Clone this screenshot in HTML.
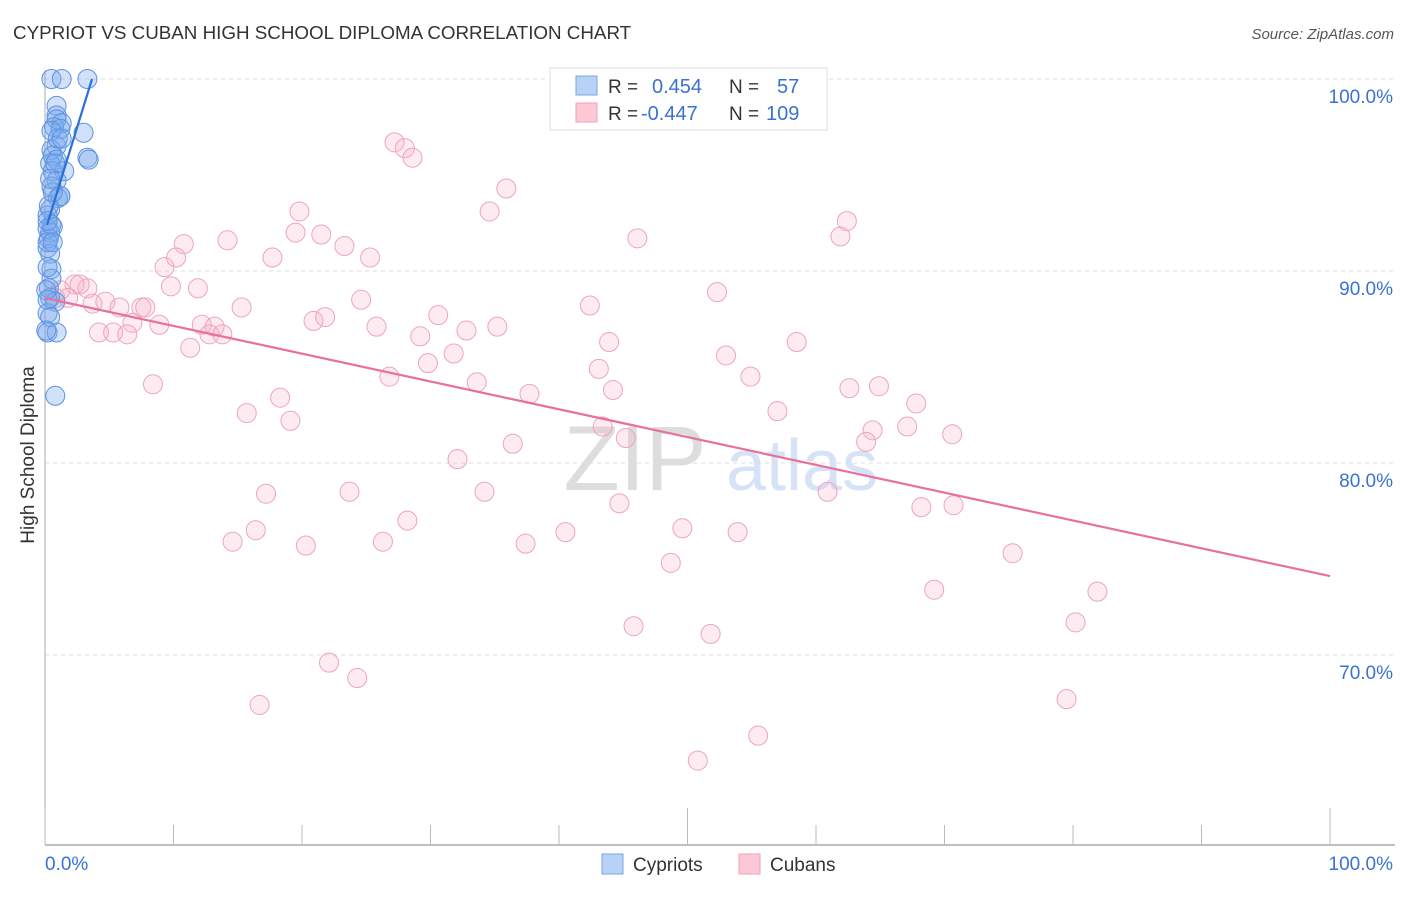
<!DOCTYPE html>
<html><head><meta charset="utf-8"><style>
body{margin:0;background:#fff;font-family:"Liberation Sans",sans-serif;}
svg text{font-family:"Liberation Sans",sans-serif;}
</style></head><body>
<svg id="chart" width="1406" height="892" xmlns="http://www.w3.org/2000/svg">
<text x="13" y="39" font-size="18.8" fill="#333">CYPRIOT VS CUBAN HIGH SCHOOL DIPLOMA CORRELATION CHART</text>
<text x="1394" y="39" font-size="15" fill="#555" text-anchor="end" font-style="italic">Source: ZipAtlas.com</text>
<text transform="translate(34,455) rotate(-90)" font-size="19" fill="#333" text-anchor="middle">High School Diploma</text>
<g id="watermark">
<text x="635" y="490" font-size="92" fill="#ddd" text-anchor="middle" font-family="Liberation Serif">ZIP</text>
<text x="802" y="490" font-size="72" fill="#d6e3f6" text-anchor="middle">atlas</text>
</g>
<g id="grid"></g><g id="axes"></g><g id="pink"></g><g id="blue"></g><g id="lines"></g>
<g>
<rect x="550" y="68" width="277" height="62" fill="#fff" stroke="#ddd"/>
<rect x="576" y="76" width="21" height="19" fill="#b8d2f5" stroke="#7aa6e6"/>
<rect x="576" y="103" width="21" height="19" fill="#fcc8d6" stroke="#eea0b8"/>
<text x="608" y="93" font-size="19" fill="#333">R =</text>
<text x="652" y="93" font-size="20" fill="#3a72d0">0.454</text>
<text x="729" y="93" font-size="19" fill="#333">N =</text>
<text x="777" y="93" font-size="20" fill="#3a72d0">57</text>
<text x="608" y="120" font-size="19" fill="#333">R =</text>
<text x="641" y="120" font-size="20" fill="#3a72d0">-0.447</text>
<text x="729" y="120" font-size="19" fill="#333">N =</text>
<text x="766" y="120" font-size="20" fill="#3a72d0">109</text>
</g>
<g>
<rect x="602" y="854" width="21" height="20" fill="#b8d2f5" stroke="#7aa6e6"/>
<text x="633" y="871" font-size="19" fill="#333">Cypriots</text>
<rect x="739" y="854" width="21" height="20" fill="#fcc8d6" stroke="#eea0b8"/>
<text x="770" y="871" font-size="19" fill="#333">Cubans</text>
</g>
</svg>
<script>
const yTicks=[100,90,80,70];
const yTickLabels=["100.0%","90.0%","80.0%","70.0%"];
const xTicks=[0,10,20,30,40,50,60,70,80,90,100];
const xTickLabels=["0.0%","100.0%"];
const cypX=[0.5,1.3,3.3,0.9,0.9,0.9,1.3,0.7,1.2,0.5,3.0,0.9,0.5,0.6,3.3,3.4,0.9,0.4,1.5,0.6,0.9,0.5,1.2,1.0,0.4,0.2,0.5,0.2,0.4,0.3,0.6,0.2,0.4,0.5,0.5,0.3,0.4,0.8,0.2,0.2,0.9,0.8,0.2,0.3,1.2,0.6,1.0,0.8,0.4,0.2,0.2,0.6,0.1,0.2,0.4,0.1,1.3];
const cypY=[100,100,100,98.6,98.1,97.9,97.7,97.5,97.4,97.3,97.2,96.5,96.3,96.0,95.9,95.8,95.8,95.6,95.2,95.2,94.7,94.4,93.9,93.8,93.2,92.9,92.4,92.2,92.0,91.7,92.3,91.2,90.9,90.1,89.6,89.1,88.6,88.4,87.8,86.8,86.8,83.5,90.2,93.4,93.9,94.1,96.9,95.6,94.8,92.6,91.5,91.5,89.0,88.5,87.6,86.9,96.9];
const cubX=[27.2,28.0,28.6,35.9,34.6,19.8,19.5,21.5,23.3,25.3,17.7,14.2,10.8,10.2,9.3,9.8,11.9,2.3,2.7,3.3,1.2,0.8,1.8,3.7,4.7,5.8,7.5,7.8,15.3,24.6,30.6,35.2,32.8,29.2,25.8,20.9,21.8,12.2,13.2,6.8,8.9,4.2,5.3,6.4,12.8,13.8,11.3,31.8,29.8,26.8,33.6,37.7,42.4,43.9,43.1,44.2,46.1,52.3,53.0,58.5,54.9,61.9,62.4,62.6,64.9,67.8,64.4,63.9,67.1,70.6,57.0,43.4,45.2,36.4,32.1,8.4,15.7,18.3,19.1,17.2,23.7,28.2,34.2,44.7,49.6,53.9,60.9,68.2,70.7,40.5,37.4,26.3,20.3,16.4,14.6,75.3,48.7,69.2,81.9,45.8,51.8,80.2,22.1,24.3,16.7,79.5,50.8,55.5];
const cubY=[96.7,96.4,95.9,94.3,93.1,93.1,92.0,91.9,91.3,90.7,90.7,91.6,91.4,90.7,90.2,89.2,89.1,89.3,89.3,89.1,89.0,88.6,88.6,88.3,88.4,88.1,88.1,88.1,88.1,88.5,87.7,87.1,86.9,86.6,87.1,87.4,87.6,87.2,87.1,87.3,87.2,86.8,86.8,86.7,86.7,86.7,86.0,85.7,85.2,84.5,84.2,83.6,88.2,86.3,84.9,83.8,91.7,88.9,85.6,86.3,84.5,91.8,92.6,83.9,84.0,83.1,81.7,81.1,81.9,81.5,82.7,81.9,81.3,81.0,80.2,84.1,82.6,83.4,82.2,78.4,78.5,77.0,78.5,77.9,76.6,76.4,78.5,77.7,77.8,76.4,75.8,75.9,75.7,76.5,75.9,75.3,74.8,73.4,73.3,71.5,71.1,71.7,69.6,68.8,67.4,67.7,64.5,65.8];
const cypLineX=[0.16,3.66], cypLineY=[92.4,100];
const cubLineX=[0,100], cubLineY=[88.59,74.11];
const NS="http://www.w3.org/2000/svg";
const sx=v=>45+v*12.85, sy=v=>79+(100-v)*19.2;
function mk(t,a,p){const e=document.createElementNS(NS,t);for(const k in a)e.setAttribute(k,a[k]);p.appendChild(e);return e;}
const grid=document.getElementById('grid'),axes=document.getElementById('axes');
yTicks.forEach((v,i)=>{
 const l=mk('line',{x1:45,x2:1395,y1:sy(v),y2:sy(v),stroke:'#ddd','stroke-dasharray':'4,4'},grid);
 
 
 const t=mk('text',{x:1393,y:sy(v)+24,'font-size':19,fill:'#3a72d0','text-anchor':'end'},grid);
 t.textContent=yTickLabels[i];
 
 
});
const ax=mk('line',{x1:45,x2:1395,y1:845,y2:845,stroke:'#aaa','stroke-width':1.5},axes);


const ay=mk('line',{x1:45,x2:45,y1:70,y2:845,stroke:'#aaa'},axes);


xTicks.forEach(v=>{
 const major=v%50===0;
 const l=mk('line',{x1:sx(v),x2:sx(v),y1:major?808:825,y2:845,stroke:'#bbb'},axes);
 
 
});
[[0,'start'],[100,'end']].forEach((p,i)=>{
 const t=mk('text',{x:i?1393:45,y:870,'font-size':19,fill:'#3a72d0','text-anchor':p[1]},axes);
 t.textContent=xTickLabels[i];
 
 
});
const pink=document.getElementById('pink'),blue=document.getElementById('blue'),lines=document.getElementById('lines');
cubX.forEach((x,i)=>{
 const c=mk('circle',{cx:sx(x),cy:sy(cubY[i]),r:9.5,fill:'rgba(248,175,198,0.25)',stroke:'#eca5bc','stroke-width':1},pink);
 
 
});
cypX.forEach((x,i)=>{
 const c=mk('circle',{cx:sx(x),cy:sy(cypY[i]),r:9.5,fill:'rgba(120,168,238,0.35)',stroke:'#5f92e0','stroke-width':1},blue);
 
 
});
const l1=mk('line',{x1:sx(cubLineX[0]),y1:sy(cubLineY[0]),x2:sx(cubLineX[1]),y2:sy(cubLineY[1]),stroke:'#e8709a','stroke-width':2.2},lines);


const l2=mk('line',{x1:sx(cypLineX[0]),y1:sy(cypLineY[0]),x2:sx(cypLineX[1]),y2:sy(cypLineY[1]),stroke:'#2b6fd8','stroke-width':2.2},lines);


</script>
</body></html>
